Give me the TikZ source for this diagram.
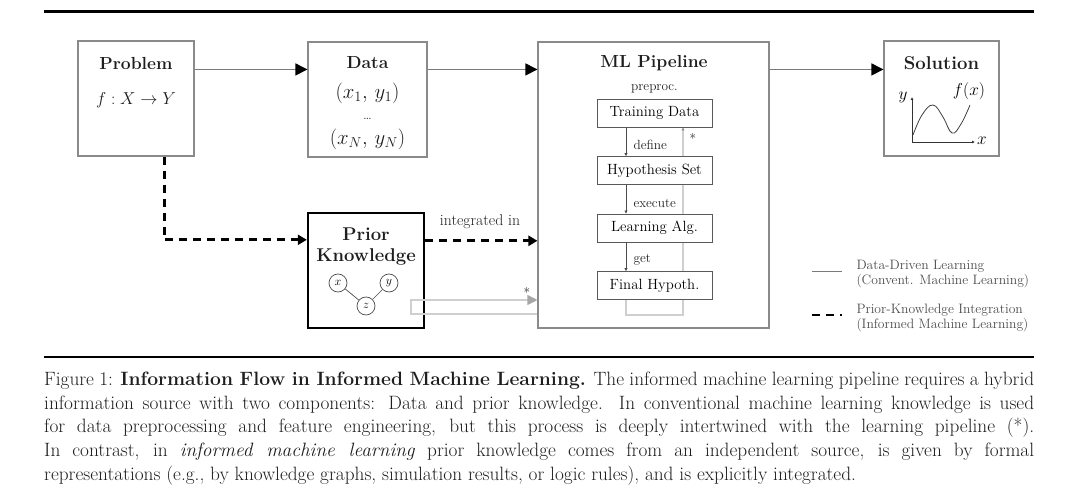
\documentclass[tikz,border=0pt]{standalone}
\usetikzlibrary{arrows.meta,calc}
\definecolor{boxgray}{HTML}{8A8A8A}
\definecolor{linegray}{HTML}{7A7A7A}
\definecolor{loopgray}{HTML}{CFCFCF}
\definecolor{txt}{HTML}{1E1E1E}
\tikzset{
  box/.style={draw=boxgray, line width=1.1pt, minimum width=#1, minimum height=115pt, inner sep=0pt},
  pkbox/.style={draw=black, line width=2.4pt, minimum width=116pt, minimum height=115pt, inner sep=0pt},
  inbox/.style={draw=black!65, fill=white, line width=0.9pt, minimum width=115pt, minimum height=28pt, inner sep=0pt, font=\fontsize{14.8}{16}\selectfont},
  title/.style={font=\bfseries\fontsize{17.5}{19}\selectfont, text=txt},
  flow/.style={draw=linegray, line width=1.2pt, -{Triangle[length=12pt,width=12pt,color=black]}},
  kflow/.style={draw=black, line width=2.6pt, dash pattern=on 8pt off 6pt, -{Triangle[length=9pt,width=10pt,color=black]}},
  gflow/.style={draw=loopgray, line width=1.1pt},
  small/.style={font=\fontsize{13.3}{14}\selectfont, text=txt},
  inarrow/.style={draw=black!70, line width=0.9pt, -{Triangle[length=3pt,width=3pt]}},
  gnode/.style={circle, draw=black!70, line width=0.7pt, minimum size=18pt, inner sep=0pt, font=\fontsize{12.5}{13}\selectfont},
  legtxt/.style={font=\fontsize{13.6}{15}\selectfont, text=black!70, align=left, anchor=west},
  mathlab/.style={font=\fontsize{19.5}{20}\selectfont, text=txt, inner sep=0pt}
}
\begin{document}
\begin{tikzpicture}[x=1pt,y=-1pt]
\useasboundingbox (0,0) rectangle (1080,497);
% rules
\coordinate (r1a) at (44,12); \coordinate (r1b) at (1034,12);
\coordinate (r2a) at (44,357); \coordinate (r2b) at (1034,357);
\draw[line width=3pt] (r1a) -- (r1b);
\draw[line width=2.6pt] (r2a) -- (r2b);
% main boxes
\node[box=116pt] (prob) at (136,98.5) {};
\node[box=119pt] (data) at (367.5,99.5) {};
\node[draw=boxgray, line width=1.1pt, minimum width=231pt, minimum height=286pt, inner sep=0pt] (pipe) at (653.5,185) {};
\node[box=115pt] (sol) at (941.5,98.5) {};
\node[pkbox] (pk) at (366,270.5) {};
% titles
\node[title] (tprob) at (136,63) {Problem};
\node[font=\fontsize{17}{19}\selectfont, text=txt] (fprob) at (136,100) {$f: X \to Y$};
\node[title] (tdata) at (367.5,63) {Data};
\node[mathlab] (d1) at (367.5,93) {$(x_1,\,y_1)$};
\node[inner sep=0pt, font=\fontsize{15}{15}\selectfont, text=txt] (d2) at (367.5,119) {\ldots};
\node[mathlab] (d3) at (367.5,139) {$(x_N,\,y_N)$};
\node[title] (tpipe) at (654,63) {ML Pipeline};
\node[title, font=\bfseries\fontsize{18.5}{19}\selectfont] (tsol) at (941.5,63) {Solution};
\node[title, align=center, font=\bfseries\fontsize{18.5}{21}\selectfont] (tpk) at (366,247) {Prior\\Knowledge};
% pipeline inner: feedback loop behind the boxes
\coordinate (lp) at (683,315);
\coordinate (lq) at (626,299);
\coordinate (lt) at (683,127.5);
\draw[gflow, -{Triangle[length=3pt,width=3pt,color=loopgray!70!black]}] (lq) |- (lp) -- (lt);
\node[small] (prep) at (654.5,89) {preproc.};
\node[inbox] (td) at (654.5,113) {Training Data};
\node[inbox] (hs) at (654.5,170.5) {Hypothesis Set};
\node[inbox] (la) at (654.5,228) {Learning Alg.};
\node[inbox] (fh) at (654.5,285.5) {Final Hypoth.};
\draw[inarrow] ([xshift=-28.5pt]td.south) -- ([xshift=-28.5pt]hs.north);
\draw[inarrow] ([xshift=-28.5pt]hs.south) -- ([xshift=-28.5pt]la.north);
\draw[inarrow] ([xshift=-28.5pt]la.south) -- ([xshift=-28.5pt]fh.north);
\node[small, anchor=west] (ldef) at (630,145) {define};
\node[small, anchor=west] (lexe) at (630,203) {execute};
\node[small, anchor=west] (lget) at (630,260) {get};
\node[small] (star1) at (693,139) {*};
% solution plot
\coordinate (o) at (912,142);
\coordinate (yt) at (912,97);
\coordinate (xt) at (975,142);
\draw[black!80, line width=0.8pt, -{Latex[length=3pt,width=3pt]}] (o) -- (yt);
\draw[black!80, line width=0.8pt, -{Latex[length=3pt,width=3pt]}] (o) -- (xt);
\node[font=\fontsize{16.5}{17}\selectfont] (ylab) at (903,97) {$y$};
\node[font=\fontsize{16.5}{17}\selectfont] (xlab) at (982,141) {$x$};
\node[font=\fontsize{17.5}{18}\selectfont] (flab) at (969,91) {$f(x)$};
\draw[black!75, line width=0.8pt] plot[smooth, tension=0.7] coordinates {(913,135) (922,115) (933,105) (943,117) (952,133) (961,124) (970,105)};
% PK graph
\node[gnode] (gx) at (338,283) {$x$};
\node[gnode] (gy) at (389,283) {$y$};
\node[gnode] (gz) at (366,306) {$z$};
\draw[black!70, line width=0.7pt] (gx) -- (gz) -- (gy);
% main flows
\draw[flow] ([yshift=-29pt]prob.north east) -- ([yshift=-29pt]prob.north east -| data.west);
\draw[flow] ([yshift=-28pt]data.north east) -- ([yshift=-28pt]data.north east -| pipe.west);
\draw[flow] ([yshift=-28pt]pipe.north east) -- ([yshift=-28pt]pipe.north east -| sol.west);
% knowledge flows
\coordinate (pkin) at ([yshift=-28pt]pk.north west);
\draw[kflow] ([xshift=87pt]prob.south west) |- (pkin);
\coordinate (pkout) at ([yshift=-29pt]pk.north east);
\draw[kflow] (pkout) -- (pkout -| pipe.west);
\node[font=\fontsize{15.7}{17}\selectfont, text=txt] (lint) at (480,222) {integrated in};
% gray feedback
\coordinate (g1) at (411,300);
\coordinate (g2) at (411,314);
\draw[gflow, -{Triangle[length=10pt,width=10pt,color=black!35]}] (g2 -| pipe.west) -- (g2) -- (g1) -- (g1 -| pipe.west);
\node[small] (star2) at (527,293) {*};
% legend
\coordinate (la1) at (812,272); \coordinate (la2) at (842,272);
\coordinate (lb1) at (812,315); \coordinate (lb2) at (842,315);
\draw[linegray, line width=1pt] (la1) -- (la2);
\draw[black, line width=2.6pt, dash pattern=on 8pt off 6pt] (lb1) -- (lb2);
\node[legtxt] (leg1) at (853,274.5) {Data-Driven Learning\\(Convent. Machine Learning)};
\node[legtxt] (leg2) at (853,317.5) {Prior-Knowledge Integration\\(Informed Machine Learning)};
% caption
\node[anchor=north west, inner sep=0pt, text width=990pt, align=justify, text=txt, font=\fontsize{19.3}{23.6}\selectfont] (cap) at (44,372) {Figure 1: {\bfseries Information Flow in Informed Machine Learning.} The informed machine learning pipeline requires a hybrid\linebreak information source with two components: Data and prior knowledge. In conventional machine learning knowledge is used\linebreak for data preprocessing and feature engineering, but this process is deeply intertwined with the learning pipeline (*).\linebreak In contrast, in \emph{informed machine learning} prior knowledge comes from an independent source, is given by formal\linebreak representations (e.g., by knowledge graphs, simulation results, or logic rules), and is explicitly integrated.};
\end{tikzpicture}
\end{document}
